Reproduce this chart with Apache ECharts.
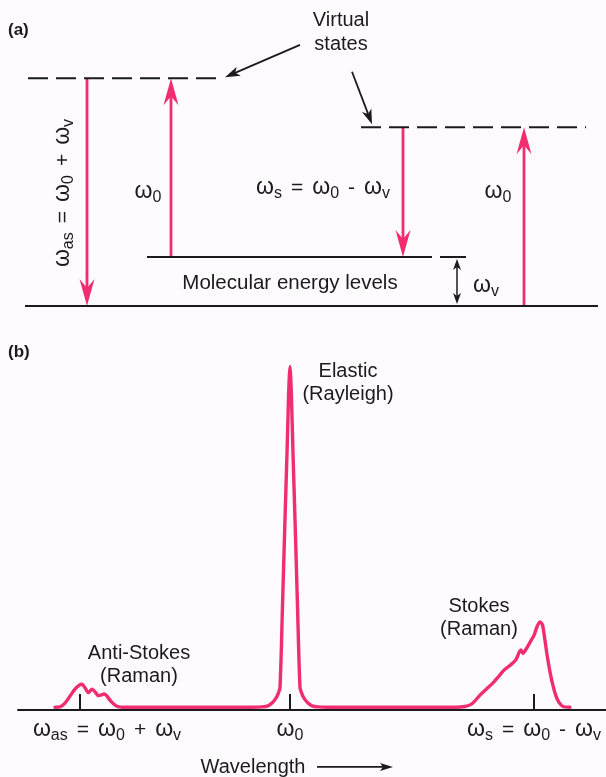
<!DOCTYPE html>
<html><head><meta charset="utf-8">
<script src="https://cdn.jsdelivr.net/npm/echarts@6/dist/echarts.min.js"></script>
<style>html,body{margin:0;padding:0;background:#fdfbfe}#c{width:606px;height:777px}</style>
</head><body><div id="c"></div>
<script>
// ---------- Panel (a): energy-level diagram (energy in units of ωv) ----------
const levelEnergy  = [0, 1, 1, 4.65, 3.65];          // ground, vibrational, ωv marker, virtual (anti-Stokes), virtual (Stokes)
const levelXStart  = [25, 147, 440, 28, 361];
const levelXEnd    = [598, 432, 466, 223, 586];
const levelDashed  = [false, false, false, true, true];

// transitions: x position, energy at start, energy at end
const transitionX    = [87, 171, 403, 524];
const transitionFrom = [4.65, 1, 3.65, 0];
const transitionTo   = [0, 4.65, 1, 3.65];

// pointer arrows ("Virtual states") and ωv bracket
const pointerFrom = [[300, 5.33], [352, 4.78]];
const pointerTo   = [[225, 4.67], [372, 3.71]];
const bracketX = 457, bracketLow = 0.04, bracketHigh = 0.96;

// ---------- Panel (b): scattered-light spectrum ----------
const wavelength = [55,60,65,70,75,79,82,85,88.5,92,95.5,98,101,104,106.5,109,112,115,118,123,
  252,262,268,272,275.5,278,280,282.5,284.8,287.2,288.5,289.3,290,290.7,291.5,292.8,295.2,297.5,300,302,304.5,308,312,318,328,
  455,465,472,480,487,493,499,504,508,512,516,519,521,523,526,530,534,537,540,542.5,545,547,550,553,556,559,563,570];
const intensity = [0.8,0.9,2.0,4.0,6.0,7.1,7.4,6.4,5.0,6.0,5.1,4.2,4.3,4.6,4.2,3.2,2.2,1.4,1.0,0.8,
  0.8,0.9,1.2,2.0,3.2,4.6,6.5,30,53,76,90,96,99,96,90,76,53,30,6.5,4.6,3.2,2.0,1.2,0.9,0.8,
  0.8,1.0,1.8,4.3,6.2,7.8,9.8,11.5,12.4,13.3,14.5,16.5,17.3,16.3,17.5,19.5,21.5,24.0,25.4,24.5,20,16,11,7,4,2.2,1.0,0.8];
const tickValues = [80, 290, 534];
const tickLabels = [
  '{g| }{w|ω}{s|as}{p| }{m|=}{p| }{w|ω}{s|0}{p| }{m|+}{p| }{w|ω}{s|v}',
  '{w|ω}{s|0}',
  '{w|ω}{s|s}{p| }{m|=}{p| }{w|ω}{s|0}{p| }{m|-}{p| }{w|ω}{s|v}'
];
const wavelengthArrow = [317, -16.4, 393, -16.4];

const PINK = '#ef2d6f', INK = '#1b1b1b';
const FONT = '"Liberation Sans", Arial, sans-serif';
const rich = {
  m: {fontSize: 21, fontFamily: FONT, color: INK},
  w: {fontSize: 23, fontFamily: FONT, color: INK},
  s: {fontSize: 16, fontFamily: FONT, color: INK, padding: [12, 0, 0, 0]},
  p: {fontSize: 21, width: 9},
  g: {width: 54}
};

function arrowRenderer(o) {
  return function (params, api) {
    const p1 = api.coord([api.value(0), api.value(1)]);
    const p2 = api.coord([api.value(2), api.value(3)]);
    const hs = api.value(4), he = api.value(5);
    const dx = p2[0] - p1[0], dy = p2[1] - p1[1];
    const len = Math.hypot(dx, dy);
    const ux = dx / len, uy = dy / len, nx = -uy, ny = ux;
    const L = o.headLength, W = o.headWidth / 2, N = o.notch;
    function head(tip, sx, sy) {
      const bx = tip[0] - sx * L, by = tip[1] - sy * L;
      return {type: 'polygon', shape: {points: [
        [tip[0], tip[1]], [bx + nx * W, by + ny * W],
        [tip[0] - sx * (L - N), tip[1] - sy * (L - N)], [bx - nx * W, by - ny * W]]},
        style: {fill: o.color}};
    }
    const a = hs ? [p1[0] + ux * (L - N), p1[1] + uy * (L - N)] : p1;
    const b = he ? [p2[0] - ux * (L - N), p2[1] - uy * (L - N)] : p2;
    const children = [{type: 'line', shape: {x1: a[0], y1: a[1], x2: b[0], y2: b[1]},
      style: {stroke: o.color, lineWidth: o.lineWidth}}];
    if (hs) children.push(head(p1, -ux, -uy));
    if (he) children.push(head(p2, ux, uy));
    return {type: 'group', children: children};
  };
}

const series = [];
levelEnergy.forEach(function (e, i) {
  series.push({
    type: 'line', xAxisIndex: 0, yAxisIndex: 0, silent: true, showSymbol: false, symbol: 'none',
    data: [[levelXStart[i], e], [levelXEnd[i], e]],
    lineStyle: {color: INK, width: 2, type: levelDashed[i] ? [20, 8] : 'solid'}
  });
});
series.push({
  type: 'custom', xAxisIndex: 0, yAxisIndex: 0, silent: true, z: 3,
  data: transitionX.map(function (x, i) { return [x, transitionFrom[i], x, transitionTo[i], 0, 1]; }),
  renderItem: arrowRenderer({color: PINK, lineWidth: 2.8, headLength: 27, headWidth: 15, notch: 9})
});
series.push({
  type: 'custom', xAxisIndex: 0, yAxisIndex: 0, silent: true, z: 3,
  data: pointerFrom.map(function (p, i) { return [p[0], p[1], pointerTo[i][0], pointerTo[i][1], 0, 1]; }),
  renderItem: arrowRenderer({color: INK, lineWidth: 1.8, headLength: 15, headWidth: 10, notch: 4})
});
series.push({
  type: 'custom', xAxisIndex: 0, yAxisIndex: 0, silent: true, z: 3,
  data: [[bracketX, bracketHigh, bracketX, bracketLow, 1, 1]],
  renderItem: arrowRenderer({color: INK, lineWidth: 1.5, headLength: 11, headWidth: 8, notch: 3})
});
series.push({
  type: 'line', xAxisIndex: 1, yAxisIndex: 1, silent: true, showSymbol: false, symbol: 'none', z: 4,
  smooth: 0.25, clip: false,
  data: wavelength.map(function (w, i) { return [w, intensity[i]]; }),
  lineStyle: {color: PINK, width: 3.4, join: 'round', cap: 'round'}
});
series.push({
  type: 'custom', xAxisIndex: 1, yAxisIndex: 1, silent: true, z: 3, clip: false,
  data: [wavelengthArrow.concat([0, 1])],
  renderItem: arrowRenderer({color: INK, lineWidth: 1.6, headLength: 13, headWidth: 8, notch: 3})
});

function txt(x, y, text, extra) {
  return Object.assign({type: 'text', x: x, y: y, silent: true, z: 10,
    style: {text: text, x: 0, y: 0, align: 'center', verticalAlign: 'middle',
      fontSize: 20, fontFamily: FONT, fill: INK, rich: rich}}, extra || {});
}
const boldStyle = function (t) {
  return {style: {text: t, x: 0, y: 0, align: 'left', verticalAlign: 'middle', fontSize: 17, fontWeight: 'bold', fontFamily: FONT, fill: INK}};
};
const graphics = [
  txt(8, 30, '(a)', boldStyle('(a)')),
  txt(341, 20, 'Virtual'),
  txt(341, 44, 'states'),
  txt(148, 192, '{w|ω}{s|0}'),
  txt(323, 188, '{w|ω}{s|s}{p| }{m|=}{p| }{w|ω}{s|0}{p| }{m|-}{p| }{w|ω}{s|v}'),
  txt(498, 192, '{w|ω}{s|0}'),
  txt(486, 286, '{w|ω}{s|v}'),
  txt(290, 283, 'Molecular energy levels', {style: {text: 'Molecular energy levels', x: 0, y: 0, align: 'center', verticalAlign: 'middle', fontSize: 20.5, fontFamily: FONT, fill: INK}}),
  txt(63, 193, '{w|ω}{s|as}{p| }{m|=}{p| }{w|ω}{s|0}{p| }{m|+}{p| }{w|ω}{s|v}', {rotation: Math.PI / 2}),
  txt(8, 352, '(b)', boldStyle('(b)')),
  txt(348, 371, 'Elastic'),
  txt(348, 394, '(Rayleigh)'),
  txt(139, 653, 'Anti-Stokes'),
  txt(139, 676, '(Raman)'),
  txt(479, 606, 'Stokes'),
  txt(479, 629, '(Raman)'),
  txt(253, 767, 'Wavelength')
];

const chart = echarts.init(document.getElementById('c'), null, {renderer: 'canvas'});
chart.setOption({
  backgroundColor: '#fdfbfe',
  animation: false,
  grid: [
    {left: 0, width: 606, top: 12, height: 318.5, outerBoundsMode: 'none', containLabel: false},
    {left: 18, width: 588, top: 363, height: 347, outerBoundsMode: 'none', containLabel: false}
  ],
  xAxis: [
    {type: 'value', gridIndex: 0, min: 0, max: 606, show: false},
    {type: 'value', gridIndex: 1, min: 18, max: 606, position: 'bottom',
      axisLine: {show: true, onZero: false, lineStyle: {color: INK, width: 2}},
      axisTick: {show: true, inside: true, length: 16, customValues: tickValues, lineStyle: {color: INK, width: 2}},
      axisLabel: {show: true, customValues: tickValues, margin: 6, rich: rich,
        formatter: function (v) { return tickLabels[tickValues.indexOf(v)]; }},
      splitLine: {show: false}}
  ],
  yAxis: [
    {type: 'value', gridIndex: 0, min: -0.5, max: 6, show: false},
    {type: 'value', gridIndex: 1, min: 0, max: 100, show: false}
  ],
  series: series,
  graphic: graphics
});
</script></body></html>
